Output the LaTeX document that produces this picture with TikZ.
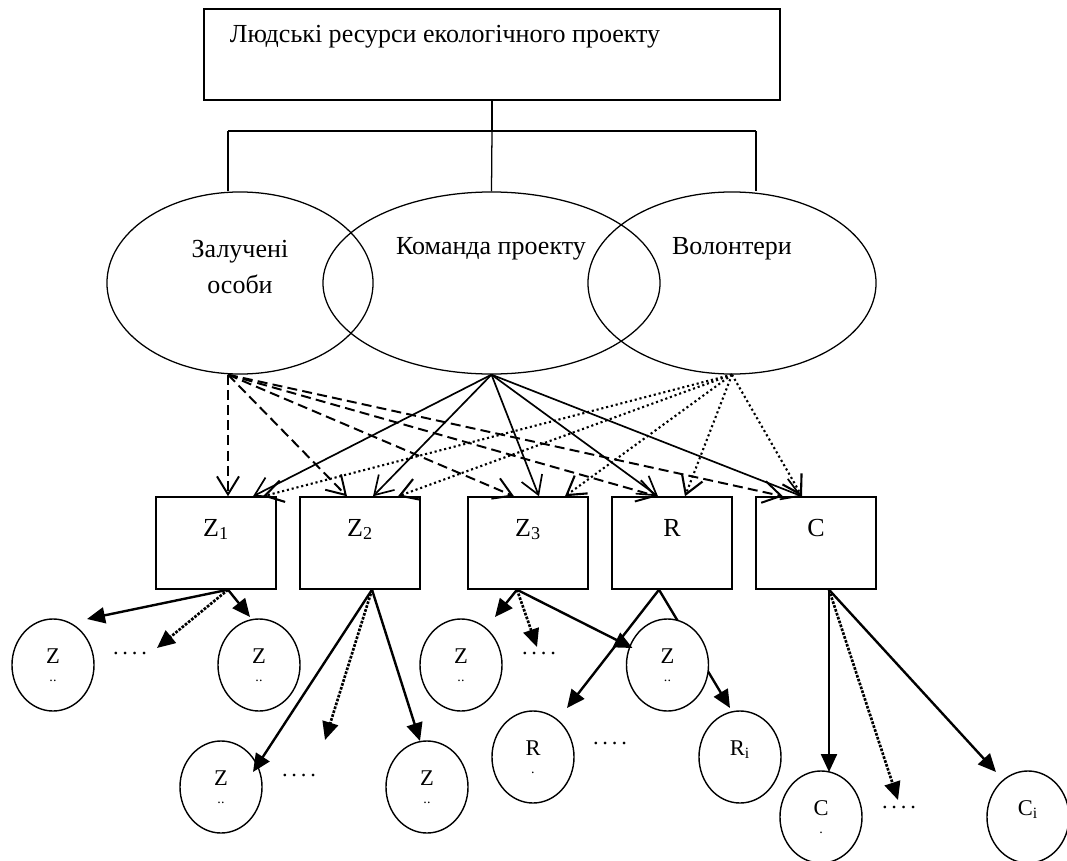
\documentclass[tikz,border=0pt]{standalone}
\usepackage{fontspec}
\setmainfont{Liberation Serif}
\usetikzlibrary{calc,arrows.meta,shapes.geometric}
\newcommand{\kolotxt}[2]{#1\\[-4pt]{\fontsize{10}{10}\selectfont #2}}
\tikzset{
	bigtxt/.style={font=\fontsize{18.5}{25.6}\selectfont},
	ramka/.style={line width=0.9pt},
	kolo/.style={draw, ellipse, line width=0.9pt, inner sep=0pt, minimum height=4.55cm},
	blok/.style={draw, rectangle, line width=1pt, inner sep=0pt, minimum width=3cm, minimum height=2.3cm, text height=0.975cm, text depth=1.325cm, bigtxt},
	mala/.style={draw, ellipse, line width=1pt, fill=white, inner sep=0pt, minimum width=2.05cm, minimum height=2.3cm, align=center, font=\fontsize{16}{17}\selectfont},
	kropki/.style={inner sep=1pt, font=\fontsize{16}{17}\selectfont},
	psuc/.style={line width=1.2pt, -{Straight Barb[length=0.45cm,width=0.55cm]}},
	pshtr/.style={line width=1.4pt, dash pattern=on 0.25cm off 0.13cm, -{Straight Barb[length=0.45cm,width=0.55cm]}},
	pkrap/.style={line width=1.5pt, dotted, -{Straight Barb[length=0.45cm,width=0.55cm]}},
	dsuc/.style={line width=1.7pt, -{Triangle[length=0.45cm,width=0.4cm]}},
	dkrap/.style={line width=1.9pt, densely dotted, -{Triangle[length=0.45cm,width=0.4cm]}}
}

\begin{document}
\begin{tikzpicture}[x=0.025cm, y=-0.025cm]
	%%%%% START %%%%%
	\useasboundingbox (0,0) rectangle (1067,861);
	
	\node[draw, line width=1pt, minimum width=14.4cm, minimum height=2.275cm, inner sep=0pt] (res) at (492,54.5) {};
	\node[bigtxt, anchor=west] (restxt) at (225,37) {Людські ресурси екологічного проекту};
	
	\node[kolo, minimum width=6.65cm] (zo) at (240,283) {};
	\node[kolo, minimum width=8.425cm] (kp) at (491.5,283) {};
	\node[kolo, minimum width=7.2cm] (vo) at (732,283) {};
	\node[bigtxt, align=center] (zotxt) at (240,267) {Залучені\\особи};
	\node[bigtxt] (kptxt) at (491,249) {Команда проекту};
	\node[bigtxt] (votxt) at (732,249) {Волонтери};
	
	\coordinate (hub) at (492,131);
	\coordinate (jl) at (228,131);
	\coordinate (jr) at (756,131);
	\draw[ramka] (res.south) -- (hub);
	\draw[ramka] (jl) -- (jr);
	\draw[ramka] (jl) -- (jl |- zo.north);
	\draw[ramka] (hub) -- (kp.north);
	\draw[ramka] (jr) -- (jr |- vo.north);
	
	\node[blok] (z1) at (216,543) {Z\textsubscript{1}};
	\node[blok] (z2) at (360,543) {Z\textsubscript{2}};
	\node[blok] (z3) at (528,543) {Z\textsubscript{3}};
	\node[blok] (r) at (672,543) {R};
	\node[blok] (c) at (816,543) {C};
	
	% Залучені особи
	\draw[pshtr] ($(zo.south)+(-12,0)$) -- ($(z1.north)+(12,0)$);
	\draw[pshtr] ($(zo.south)+(-12,0)$) -- ($(z2.north)+(-13,0)$);
	\draw[pshtr] ($(zo.south)+(-12,0)$) -- ($(z3.north)+(-14,0)$);
	\draw[pshtr] ($(zo.south)+(-12,0)$) -- ($(r.north)+(-15,0)$);
	\draw[pshtr] ($(zo.south)+(-12,0)$) -- ($(c.north)+(-33,0)$);
	
	% Команда проекту
	\draw[psuc] (kp.south) -- ($(z1.north)+(37,0)$);
	\draw[psuc] (kp.south) -- ($(z2.north)+(13,0)$);
	\draw[psuc] (kp.south) -- ($(z3.north)+(11,0)$);
	\draw[psuc] (kp.south) -- ($(r.north)+(-14,0)$);
	\draw[psuc] (kp.south) -- ($(c.north)+(-14,0)$);
	
	% Волонтери
	\draw[pkrap] (vo.south) -- ($(z1.north)+(47,0)$);
	\draw[pkrap] (vo.south) -- ($(z2.north)+(38,0)$);
	\draw[pkrap] (vo.south) -- ($(z3.north)+(37,0)$);
	\draw[pkrap] (vo.south) -- ($(r.north)+(13,0)$);
	\draw[pkrap] (vo.south) -- ($(c.north)+(-14,0)$);
	
	\node[mala] (z11) at (53,665) {\kolotxt{Z}{..}};
	\node[mala] (z1i) at (259,665) {\kolotxt{Z}{..}};
	\node[mala] (z21) at (221,787) {\kolotxt{Z}{..}};
	\node[mala] (z2i) at (427,787) {\kolotxt{Z}{..}};
	\node[mala] (z31) at (461,665) {\kolotxt{Z}{..}};
	\node[mala] (r1) at (533,757) {\kolotxt{R}{.}};
	\node[mala] (ri) at (740,757) {\kolotxt{R\textsubscript{i}}{}};
	\node[mala] (c1) at (821,817) {\kolotxt{C}{.}};
	\node[mala] (ci) at (1028,817) {\kolotxt{C\textsubscript{i}}{}};
	
	\draw[dsuc] ($(r.south)+(-13,0)$) -- ($(ri)+(-10,-49)$);
	\node[mala] (z3i) at (667.5,665) {\kolotxt{Z}{..}};
	
	\node[kropki] (d1) at (130,653) {.\,.\,.\,.};
	\node[kropki] (d2) at (299,775) {.\,.\,.\,.};
	\node[kropki] (d3) at (539,653) {.\,.\,.\,.};
	\node[kropki] (d4) at (610,743) {.\,.\,.\,.};
	\node[kropki] (d5) at (899,807) {.\,.\,.\,.};
	
	\coordinate (k1) at (157,648);
	\coordinate (k2) at (325,740);
	\coordinate (k3) at (537,647);
	\coordinate (k5) at (898,800);
	
	\draw[dsuc] ($(z1.south)+(12,0)$) -- ($(z11)+(34,-46)$);
	\draw[dkrap] ($(z1.south)+(12,0)$) -- (k1);
	\draw[dsuc] ($(z1.south)+(12,0)$) -- ($(z1i)+(-9,-48)$);
	
	\draw[dsuc] ($(z2.south)+(12,0)$) -- ($(z21)+(32,-15)$);
	\draw[dkrap] ($(z2.south)+(12,0)$) -- (k2);
	\draw[dsuc] ($(z2.south)+(12,0)$) -- ($(z2i)+(-7,-46)$);
	
	\draw[dsuc] ($(z3.south)+(-11,0)$) -- ($(z31)+(34,-48)$);
	\draw[dkrap] ($(z3.south)+(-11,0)$) -- (k3);
	\draw[dsuc] ($(z3.south)+(-11,0)$) -- ($(z3i)+(-35,-17)$);
	
	\draw[dsuc] ($(r.south)+(-13,0)$) -- ($(r1)+(34,-49)$);
	
	\draw[dsuc] ($(c.south)+(13,0)$) -- ($(c1)+(8,-45)$);
	\draw[dkrap] ($(c.south)+(13,0)$) -- (k5);
	\draw[dsuc] ($(c.south)+(13,0)$) -- ($(ci)+(-32,-45)$);
	
	%%%%% END %%%%%
\end{tikzpicture}
\end{document}
